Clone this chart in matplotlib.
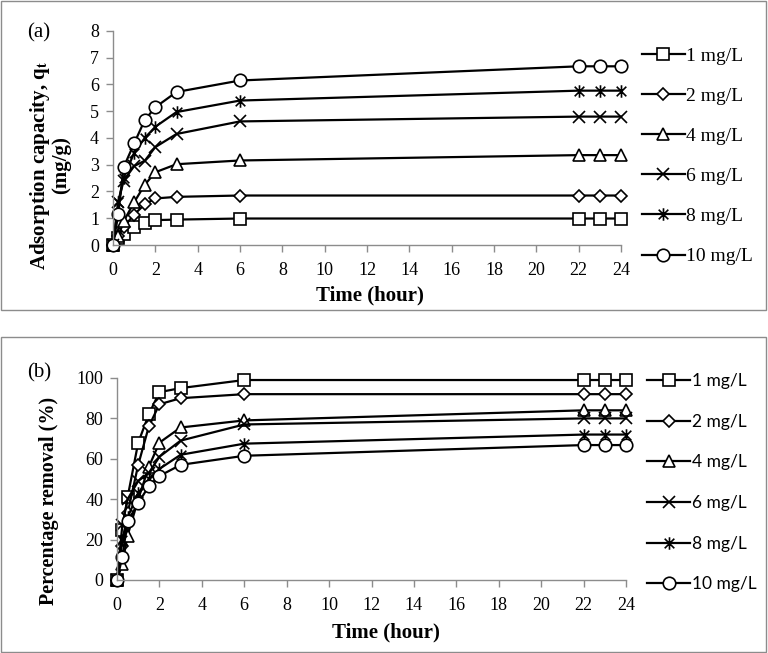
import numpy as np
import matplotlib
matplotlib.use("Agg")
import matplotlib.pyplot as plt
from matplotlib.path import Path
from matplotlib.patches import Rectangle

# --- data ---
time_h = [0, 0.25, 0.5, 1, 1.5, 2, 3, 6, 22, 23, 24]
labels = ["1 mg/L", "2 mg/L", "4 mg/L", "6 mg/L", "8 mg/L", "10 mg/L"]

# (a) adsorption capacity qt (mg/g)
qt_1 = [0, 0.25, 0.41, 0.68, 0.82, 0.93, 0.95, 0.99, 0.99, 0.99, 0.99]
qt_2 = [0, 0.34, 0.66, 1.14, 1.52, 1.74, 1.80, 1.85, 1.85, 1.85, 1.85]
qt_4 = [0, 0.32, 0.88, 1.60, 2.25, 2.72, 3.02, 3.16, 3.36, 3.36, 3.36]
qt_6 = [0, 1.60, 2.40, 2.95, 3.15, 3.66, 4.15, 4.62, 4.80, 4.80, 4.80]
qt_8 = [0, 1.60, 2.50, 3.45, 4.00, 4.42, 4.97, 5.40, 5.77, 5.77, 5.77]
qt_10 = [0, 1.15, 2.90, 3.80, 4.67, 5.15, 5.72, 6.15, 6.68, 6.68, 6.68]

# (b) percentage removal (%)
rem_1 = [0, 25, 41, 68, 82, 93, 95, 99, 99, 99, 99]
rem_2 = [0, 17, 33, 57, 76, 87, 90, 92, 92, 92, 92]
rem_4 = [0, 8, 22, 40, 56, 68, 75.5, 79, 84, 84, 84]
rem_6 = [0, 27, 40, 49, 53, 61, 69, 77, 80, 80, 80]
rem_8 = [0, 20, 31, 43, 50, 55, 62, 67.5, 72, 72, 72]
rem_10 = [0, 11.5, 29, 38, 46.5, 51.5, 57, 61.5, 66.8, 66.8, 66.8]

# excel-like star: X with a vertical bar
star = Path([(-1, -1), (1, 1), (-1, 1), (1, -1), (0, -1.3), (0, 1.3)],
            [Path.MOVETO, Path.LINETO, Path.MOVETO, Path.LINETO, Path.MOVETO, Path.LINETO])
markers = ["s", "D", "^", "x", star, "o"]
msizes = [8, 6, 8, 8, 9, 9]

plt.rcParams["font.family"] = ["Liberation Serif", "DejaVu Serif"]
plt.rcParams["mathtext.fontset"] = "stix"

fig = plt.figure(figsize=(7.68, 6.53), dpi=100)
W, H = 768, 653


def fx(px):
    return px / W


def fy(py):
    return 1 - py / H


# panel frames
fig.patches.append(Rectangle((fx(1), fy(310)), 765 / W, 309 / H, transform=fig.transFigure,
                             fill=False, edgecolor="#8c8c8c", lw=1))
fig.patches.append(Rectangle((fx(1), fy(652)), 765 / W, 315 / H, transform=fig.transFigure,
                             fill=False, edgecolor="#8c8c8c", lw=1))

ax_a = fig.add_axes([fx(113), fy(245), 508 / W, 214 / H])
ax_b = fig.add_axes([fx(117), fy(580), 509 / W, 202 / H])


def style_axis(ax, ymax, ystep):
    ax.set_xlim(0, 24)
    ax.set_ylim(0, ymax)
    ax.set_xticks(np.arange(0, 25, 2))
    ax.set_yticks(np.arange(0, ymax + 0.1, ystep))
    for s in ["top", "right"]:
        ax.spines[s].set_visible(False)
    for s in ["left", "bottom"]:
        ax.spines[s].set_color("#8c8c8c")
        ax.spines[s].set_linewidth(1)
    ax.tick_params(axis="both", direction="out", length=5, width=1, color="#8c8c8c",
                   labelsize=13)
    ax.tick_params(axis="x", pad=7)
    ax.tick_params(axis="y", pad=5)


series_a = [qt_1, qt_2, qt_4, qt_6, qt_8, qt_10]
series_b = [rem_1, rem_2, rem_4, rem_6, rem_8, rem_10]

for ys, m, ms, lab in zip(series_a, markers, msizes, labels):
    ax_a.plot(time_h, ys, color="black", lw=1.6, marker=m, ms=ms, mfc="white",
              mec="black", mew=1.2, clip_on=False, label=lab)
for ys, m, ms, lab in zip(series_b, markers, msizes, labels):
    ax_b.plot(time_h, ys, color="black", lw=1.6, marker=m, ms=ms, mfc="white",
              mec="black", mew=1.2, clip_on=False, label=lab)

style_axis(ax_a, 8, 1)
style_axis(ax_b, 100, 20)

# axis titles placed like the excel original
fig.text(fx(370), fy(295), "Time (hour)", fontsize=15, fontweight="bold",
         ha="center", va="center")
fig.text(fx(386), fy(632), "Time (hour)", fontsize=15, fontweight="bold",
         ha="center", va="center")
fig.text(fx(50), fy(165), "Adsorption capacity, q$_\\mathbf{t}$\n(mg/g)", fontsize=15,
         fontweight="bold", rotation=90, ha="center", va="center",
         linespacing=0.95, multialignment="center")
fig.text(fx(49), fy(501), "Percentage removal (%)", fontsize=14.5, fontweight="bold",
         rotation=90, ha="center", va="center")

fig.text(fx(27), fy(33), "(a)", fontsize=15, va="center", ha="left")
fig.text(fx(27), fy(373), "(b)", fontsize=15, va="center", ha="left")

ax_a.legend(loc="upper left", bbox_to_anchor=(fx(642), fy(47)),
            bbox_transform=fig.transFigure, frameon=False,
            handlelength=2.2, handletextpad=0.05, labelspacing=1.16, borderaxespad=0,
            borderpad=0, prop={"family": "Liberation Serif", "size": 14})
ax_b.legend(loc="upper left", bbox_to_anchor=(fx(647), fy(373)),
            bbox_transform=fig.transFigure, frameon=False,
            handlelength=2.48, handletextpad=0.1, labelspacing=1.42, borderaxespad=0,
            borderpad=0, prop={"family": "Lato", "size": 12.5})

fig.savefig("out.png", dpi=100)
